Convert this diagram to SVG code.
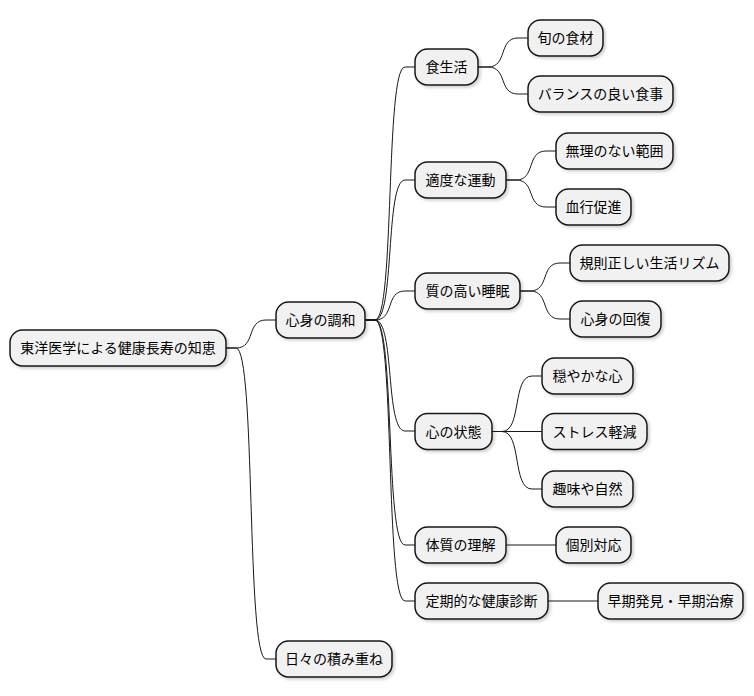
<svg xmlns="http://www.w3.org/2000/svg" width="754" height="696" viewBox="0 0 754 696">
<defs>
<filter id="sh" x="-10%" y="-20%" width="130%" height="160%">
<feDropShadow dx="2" dy="2" stdDeviation="1.5" flood-color="#000" flood-opacity="0.18"/>
</filter>
<style>
.n rect{fill:#F1F1F1;stroke:#181818;stroke-width:1.5;filter:url(#sh)}
.n text{font-family:"Noto Sans CJK JP","Noto Sans",sans-serif;font-size:14px;fill:#000;text-anchor:middle}
.c path{fill:none;stroke:#181818;stroke-width:1}
</style>
</defs>
<rect width="754" height="696" fill="#fff"/>
<g class="c" id="connectors">
<path d="M226,348 L236,348 C256,348 246,320 266,320 L276,320"/>
<path d="M226,348 L236,348 C256,348 246,659 266,659 L276,659"/>
<path d="M365,320 L375,320 C395,320 385,67 405,67 L415,67"/>
<path d="M365,320 L375,320 C395,320 385,180 405,180 L415,180"/>
<path d="M365,320 L375,320 C395,320 385,291 405,291 L415,291"/>
<path d="M365,320 L375,320 C395,320 385,431 405,431 L415,431"/>
<path d="M365,320 L375,320 C395,320 385,545 405,545 L415,545"/>
<path d="M365,320 L375,320 C395,320 385,601 405,601 L415,601"/>
<path d="M478,67 L488,67 C508,67 498,38 518,38 L528,38"/>
<path d="M478,67 L488,67 C508,67 498,94 518,94 L528,94"/>
<path d="M506,180 L516,180 C536,180 526,151 546,151 L556,151"/>
<path d="M506,180 L516,180 C536,180 526,207 546,207 L556,207"/>
<path d="M520,291 L530,291 C550,291 540,263 560,263 L570,263"/>
<path d="M520,291 L530,291 C550,291 540,319 560,319 L570,319"/>
<path d="M492,431.5 L502,431.5 C522,431.5 512,376 532,376 L542,376"/>
<path d="M492,431.5 L542,431.5"/>
<path d="M492,431.5 L502,431.5 C522,431.5 512,489 532,489 L542,489"/>
<path d="M506,545 L556,545"/>
<path d="M548,601 L598,601"/>
</g>
<g class="n" id="root"><rect x="10" y="330" width="216" height="36" rx="12.5"/><text x="118" y="353">東洋医学による健康長寿の知恵</text></g>
<g class="n" id="n1"><rect x="276" y="302" width="89" height="36" rx="12.5"/><text x="320.5" y="325">心身の調和</text></g>
<g class="n" id="n2"><rect x="276" y="641" width="116" height="36" rx="12.5"/><text x="334" y="664">日々の積み重ね</text></g>
<g class="n" id="n11"><rect x="415" y="49" width="63" height="36" rx="12.5"/><text x="446.5" y="72">食生活</text></g>
<g class="n" id="n12"><rect x="415" y="162" width="91" height="36" rx="12.5"/><text x="460.5" y="185">適度な運動</text></g>
<g class="n" id="n13"><rect x="415" y="273" width="105" height="36" rx="12.5"/><text x="467.5" y="296">質の高い睡眠</text></g>
<g class="n" id="n14"><rect x="415" y="413.5" width="77" height="36" rx="12.5"/><text x="453.5" y="436.5">心の状態</text></g>
<g class="n" id="n15"><rect x="415" y="527" width="91" height="36" rx="12.5"/><text x="460.5" y="550">体質の理解</text></g>
<g class="n" id="n16"><rect x="415" y="583" width="133" height="36" rx="12.5"/><text x="481.5" y="606">定期的な健康診断</text></g>
<g class="n" id="n111"><rect x="528" y="20" width="75" height="36" rx="12.5"/><text x="565.5" y="43">旬の食材</text></g>
<g class="n" id="n112"><rect x="528" y="76" width="145" height="36" rx="12.5"/><text x="600.5" y="99">バランスの良い食事</text></g>
<g class="n" id="n121"><rect x="556" y="133" width="117" height="36" rx="12.5"/><text x="614.5" y="156">無理のない範囲</text></g>
<g class="n" id="n122"><rect x="556" y="189" width="75" height="36" rx="12.5"/><text x="593.5" y="212">血行促進</text></g>
<g class="n" id="n131"><rect x="570" y="245" width="159" height="36" rx="12.5"/><text x="649.5" y="268">規則正しい生活リズム</text></g>
<g class="n" id="n132"><rect x="570" y="301" width="91" height="36" rx="12.5"/><text x="615.5" y="324">心身の回復</text></g>
<g class="n" id="n141"><rect x="542" y="358" width="91" height="36" rx="12.5"/><text x="587.5" y="381">穏やかな心</text></g>
<g class="n" id="n142"><rect x="542" y="413.5" width="105" height="36" rx="12.5"/><text x="594.5" y="436.5">ストレス軽減</text></g>
<g class="n" id="n143"><rect x="542" y="471" width="91" height="36" rx="12.5"/><text x="587.5" y="494">趣味や自然</text></g>
<g class="n" id="n151"><rect x="556" y="527" width="75" height="36" rx="12.5"/><text x="593.5" y="550">個別対応</text></g>
<g class="n" id="n161"><rect x="598" y="583" width="145" height="36" rx="12.5"/><text x="670.5" y="606">早期発見・早期治療</text></g>
</svg>
